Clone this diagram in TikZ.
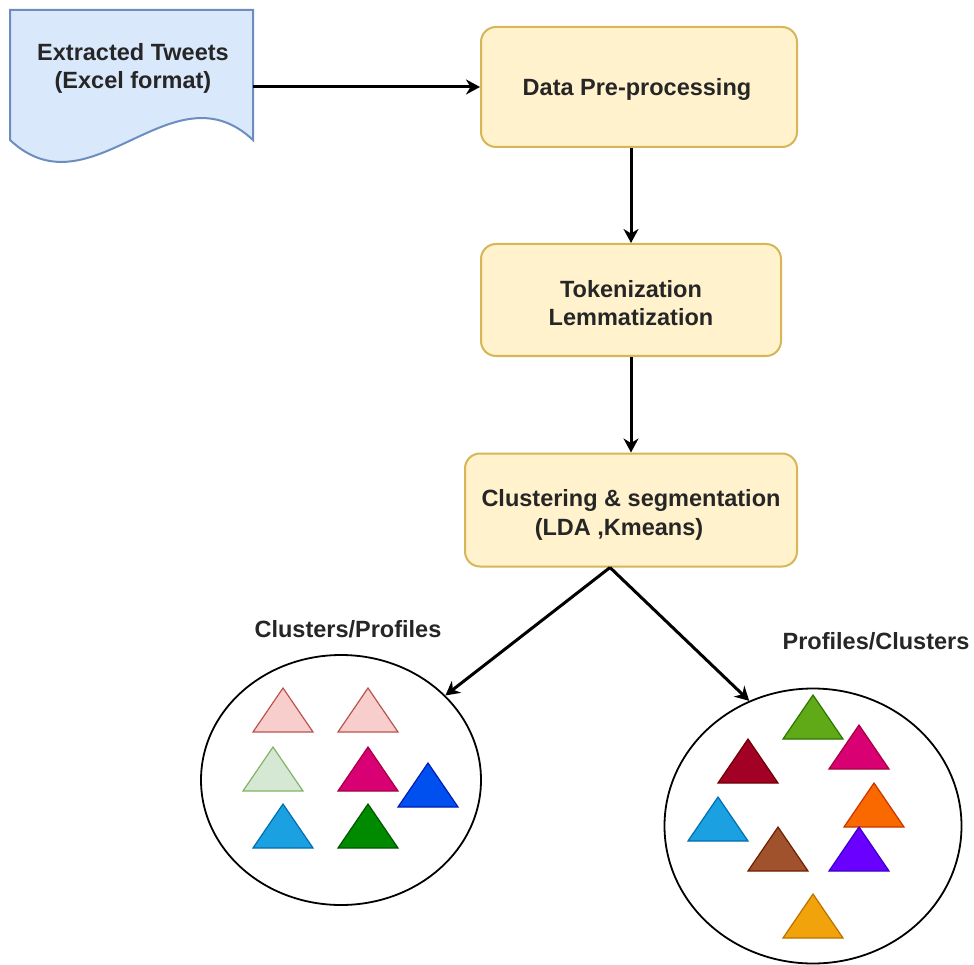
\documentclass[tikz,border=0pt]{standalone}
\usepackage{fontspec}
\setmainfont{Liberation Sans}
\usetikzlibrary{shapes.geometric,arrows.meta,calc}
\definecolor{docfill}{HTML}{DAE8FC}
\definecolor{docline}{HTML}{6C8EBF}
\definecolor{boxfill}{HTML}{FFF2CC}
\definecolor{boxline}{HTML}{D6B656}
\definecolor{pinkF}{HTML}{F8CECC}\definecolor{pinkD}{HTML}{B85450}
\definecolor{lgreenF}{HTML}{D5E8D4}\definecolor{lgreenD}{HTML}{82B366}
\definecolor{magF}{HTML}{D80073}\definecolor{magD}{HTML}{A50040}
\definecolor{blueF}{HTML}{0050EF}\definecolor{blueD}{HTML}{001DBC}
\definecolor{cyanF}{HTML}{1BA1E2}\definecolor{cyanD}{HTML}{006EAF}
\definecolor{greenF}{HTML}{008A00}\definecolor{greenD}{HTML}{005700}
\definecolor{limeF}{HTML}{60A917}\definecolor{limeD}{HTML}{2D7600}
\definecolor{redF}{HTML}{A20025}\definecolor{redD}{HTML}{6F0000}
\definecolor{orangeF}{HTML}{FA6800}\definecolor{orangeD}{HTML}{C73500}
\definecolor{brownF}{HTML}{A0522D}\definecolor{brownD}{HTML}{6D1F00}
\definecolor{purpleF}{HTML}{6A00FF}\definecolor{purpleD}{HTML}{3700CC}
\definecolor{yellowF}{HTML}{F0A30A}\definecolor{yellowD}{HTML}{BD7000}
\tikzset{
  txt/.style={font=\fontsize{23.5}{28}\selectfont\bfseries, align=center, inner sep=0pt, text=black!85},
  procbox/.style={draw=boxline, fill=boxfill, line width=2pt, rounded corners=15pt, inner sep=0pt},
  cluster/.style={draw=black, line width=1.8pt, ellipse, inner sep=0pt},
  flow/.style={line width=3pt, -{Stealth[length=14pt,width=15pt,inset=4.5pt]}},
  trishape/.style={line width=1.2pt, line join=miter}
}
\newcommand\mytri[5]{%
  \filldraw[trishape, fill=#3, draw=#4] (#1,#2) -- ++(30,44) -- ++(-#5,0) -- cycle;}
\begin{document}
\begin{tikzpicture}[x=1pt,y=-1pt]
\useasboundingbox (0,0) rectangle (974,965);
% document shape
\node[minimum width=243pt, minimum height=154pt, inner sep=0pt] (doc) at (131.5,87) {};
\filldraw[draw=docline, fill=docfill, line width=2pt]
  (10,10) -- (253,10) -- (253,140)
  .. controls (172,64) and (91,216) .. (10,140) -- cycle;
\node[txt] (doctext) at (133,68) {Extracted Tweets\\(Excel format)};
% process boxes
\node[procbox, minimum width=316pt, minimum height=120pt] (b1) at (639,87) {};
\node[txt] (b1t) at (637,89) {Data Pre-processing};
\node[procbox, minimum width=300pt, minimum height=112pt] (b2) at (631,300) {};
\node[txt] (b2t) at (631,303) {Tokenization\\Lemmatization};
\node[procbox, minimum width=332pt, minimum height=113pt] (b3) at (631,510) {};
\node[txt, font=\fontsize{23.5}{29}\selectfont\bfseries] (b3t) at (631,515) {Clustering \& segmentation\\\hspace*{-24pt}(LDA ,Kmeans)};
% clusters
\node[cluster, minimum width=280pt, minimum height=250pt] (lc) at (341,780) {};
\node[cluster, minimum width=297pt, minimum height=275pt] (rc) at (813,826) {};
\node[txt] (lcl) at (348,629) {Clusters/Profiles};
\node[txt] (rcl) at (876,641) {Profiles/Clusters};
% connectors
\draw[flow] (doc.east) -- (b1.west);
\draw[flow] (b2.north |- b1.south) -- (b2.north);
\draw[flow] (b2.south) -- (b3.north);
\coordinate (split) at ($(b3.south)+(-21,0)$);
\draw[flow] (split) -- (lc.39);
\draw[flow] (split) -- (rc.117);
% left triangles
\mytri{283}{688}{pinkF}{pinkD}{60}
\mytri{368}{688}{pinkF}{pinkD}{60}
\mytri{273}{747}{lgreenF}{lgreenD}{60}
\mytri{368}{747}{magF}{magD}{60}
\mytri{428}{763}{blueF}{blueD}{60}
\mytri{283}{804}{cyanF}{cyanD}{60}
\mytri{368}{804}{greenF}{greenD}{60}
% right triangles
\mytri{813}{695}{limeF}{limeD}{60}
\mytri{859}{725}{magF}{magD}{60}
\mytri{748}{739}{redF}{redD}{60}
\mytri{874}{783}{orangeF}{orangeD}{60}
\mytri{718}{797}{cyanF}{cyanD}{60}
\mytri{778}{827}{brownF}{brownD}{60}
\mytri{859}{827}{purpleF}{purpleD}{60}
\mytri{813}{894}{yellowF}{yellowD}{60}
\end{tikzpicture}
\end{document}
